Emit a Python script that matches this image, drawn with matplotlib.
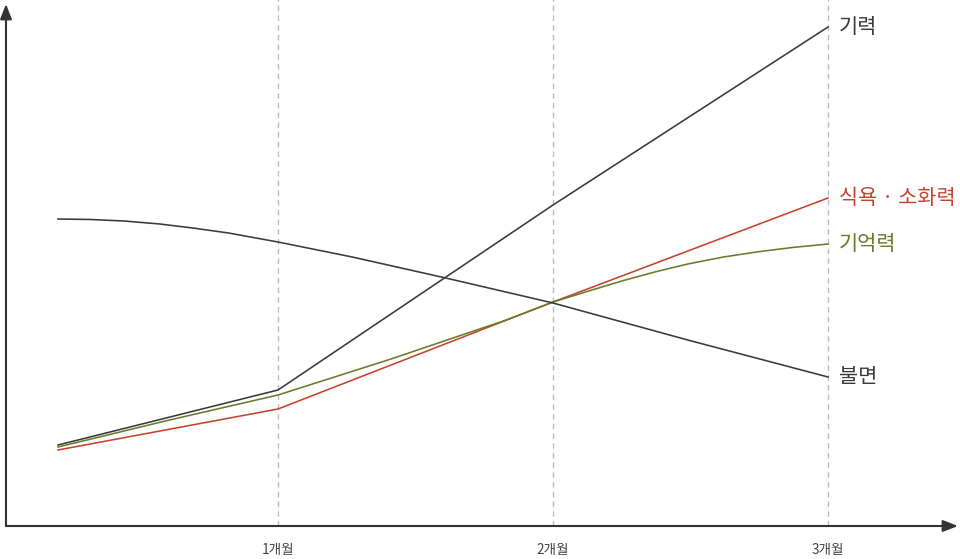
import numpy as np
import matplotlib
matplotlib.use("Agg")
import matplotlib.pyplot as plt

plt.rcParams['font.family'] = ['Noto Sans CJK KR', 'DejaVu Sans']

# month ticks
months = [1, 2, 3]
month_labels = ["1개월", "2개월", "3개월"]

# series (x in months, y in relative units)
energy_x = [0.2, 1, 2, 3]
energy_y = [16.2, 27.2, 64.2, 99.8]

appetite_x = [0.2, 1, 2, 3]
appetite_y = [15.2, 23.4, 44.8, 65.6]

memory_x = [0.2, 0.59, 1, 1.4, 1.83, 2, 2.13, 2.25, 2.37, 2.49, 2.62, 2.74, 2.87, 3]
memory_y = [15.8, 21.0, 26.2, 33.2, 41.2, 44.8, 47.0, 49.0, 50.8, 52.4, 53.8, 54.8, 55.7, 56.4]

insomnia_x = [0.2, 0.32, 0.44, 0.57, 0.69, 0.82, 1, 1.27, 1.61, 2, 2.49, 3]
insomnia_y = [61.4, 61.3, 61.0, 60.4, 59.6, 58.6, 56.8, 53.8, 49.6, 44.6, 37.2, 29.8]

series = [
    ("기력", energy_x, energy_y, "#3a3a3a"),
    ("식욕 · 소화력", appetite_x, appetite_y, "#c8432f"),
    ("기억력", memory_x, memory_y, "#6b7a2a"),
    ("불면", insomnia_x, insomnia_y, "#3a3a3a"),
]

fig = plt.figure(figsize=(9.6, 5.59), dpi=100)
W, H = 960, 559
ax = fig.add_axes([6 / W, (H - 526) / H, (958 - 6) / W, (526 - 4) / H])
ax.set_xlim(2 - (553 - 6) / 275, 2 + (958 - 553) / 275)
ax.set_ylim(0, 104.4)

for s in ax.spines.values():
    s.set_visible(False)

# dashed month guides
for m in months:
    ax.axvline(m, ymin=0, ymax=1.01, color="#bdbdbd", lw=1.0,
               dashes=(4, 3), clip_on=False, zorder=1)

# lines + end labels
for name, xs, ys, c in series:
    ax.plot(xs, ys, color=c, lw=1.15, zorder=3, solid_joinstyle="round")
    ax.annotate(name, xy=(xs[-1], ys[-1]), xytext=(8, 0),
                textcoords="offset points", va="center", ha="left",
                fontsize=15, color=c)

# axes with arrows
arrow = dict(arrowstyle="-|>,head_length=0.9,head_width=0.35",
             color="#333333", lw=1.5, shrinkA=0, shrinkB=0)
ax.annotate("", xy=(1.0, 0), xytext=(0, 0), xycoords="axes fraction", arrowprops=arrow)
ax.annotate("", xy=(0, 1.0), xytext=(0, 0), xycoords="axes fraction", arrowprops=arrow)

ax.set_yticks([])
ax.set_xticks(months)
ax.set_xticklabels(month_labels, fontsize=9.8, color="#444444")
ax.tick_params(axis="x", length=0, pad=12)

fig.savefig("out.png", dpi=100)
